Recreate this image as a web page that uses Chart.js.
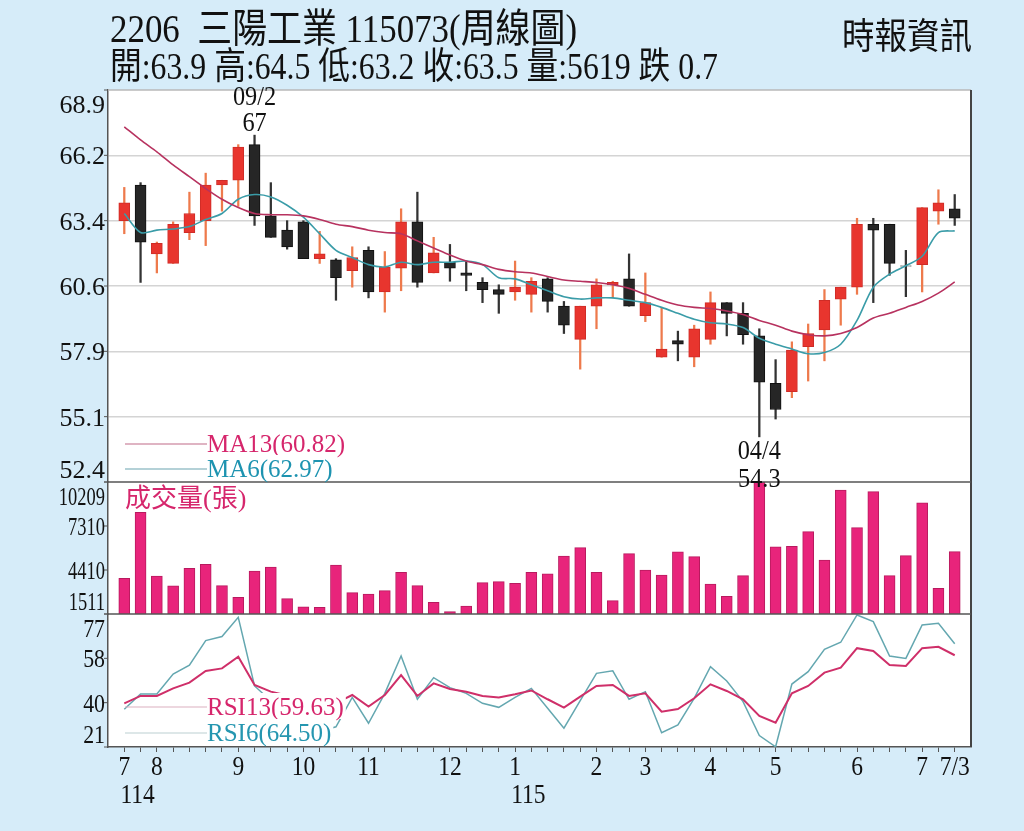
<!DOCTYPE html>
<html><head><meta charset="utf-8">
<script src="https://cdn.jsdelivr.net/npm/chart.js@4"></script>
<style>html,body{margin:0;padding:0;background:#d6ecf9;}canvas{display:block;}</style>
</head><body>
<canvas id="c" width="1024" height="831"></canvas>
<script>
// ---- data (weekly, 114/07 .. 115/07/03) ----
const opens  = [63.4,64.9,62.0,61.6,62.9,63.4,64.9,65.1,66.6,63.6,63.0,63.35,61.8,61.75,61.3,62.15,60.4,61.4,63.35,61.2,61.65,61.2,60.8,60.5,60.4,60.3,60.95,59.8,58.4,59.8,60.7,60.95,59.4,57.65,58.35,57.65,58.4,59.95,59.5,58.55,56.55,56.2,58.1,58.8,60.1,60.6,63.25,63.25,61.5,61.55,63.8,63.9];
const highs  = [64.8,65.0,62.5,63.35,64.6,65.4,65.1,66.6,67.0,65.0,63.4,63.4,62.95,61.8,62.3,62.3,62.1,63.9,64.6,62.7,62.4,61.7,61.0,60.7,61.7,61.0,61.0,60.0,59.8,60.95,60.85,62.0,61.2,59.75,58.75,59.0,60.4,59.95,59.95,58.85,57.55,58.3,59.05,60.5,60.6,63.5,63.5,63.25,62.15,63.95,64.7,64.5];
const lows   = [62.85,60.8,61.2,61.6,62.6,62.35,63.8,64.0,63.2,62.7,62.2,61.8,61.6,60.05,60.6,60.15,59.55,60.45,60.6,61.2,60.85,60.45,59.95,59.5,60.05,59.55,59.55,58.65,57.15,58.85,60.15,59.8,59.15,57.65,57.5,57.25,58.2,58.55,58.2,54.3,55.05,55.95,56.65,57.5,59.0,60.3,59.95,61.1,60.2,60.4,63.25,63.2];
const closes = [64.15,62.5,62.45,63.25,63.7,64.9,65.1,66.5,63.6,62.7,62.3,61.8,62.0,61.0,61.85,60.4,61.45,63.35,60.8,62.05,61.4,61.1,60.5,60.3,60.6,60.85,60.0,59.0,59.8,60.7,60.8,59.8,59.95,58.0,58.2,58.85,59.95,59.5,58.6,56.6,55.45,57.95,58.65,60.05,60.6,63.25,63.0,61.6,61.48,63.95,64.15,63.5];
const ma13   = [67.35,66.8,66.3,65.75,65.25,64.75,64.3,63.95,63.7,63.65,63.65,63.6,63.45,63.25,63.15,63.0,62.9,62.85,62.55,62.25,61.95,61.7,61.55,61.35,61.25,61.2,61.05,60.9,60.85,60.8,60.7,60.55,60.3,60.05,59.85,59.75,59.7,59.6,59.45,59.2,59.0,58.75,58.6,58.55,58.65,58.9,59.3,59.5,59.75,60.0,60.35,60.82];
const ma6    = [63.7,62.9,63.0,63.05,63.15,63.45,63.7,64.3,64.5,64.4,64.05,63.55,62.85,62.15,61.85,61.55,61.45,61.65,61.55,61.65,61.65,61.7,61.55,61.0,60.95,60.7,60.45,60.2,60.1,60.15,60.15,60.05,59.95,59.75,59.5,59.25,59.1,59.05,58.9,58.45,58.2,58.0,57.8,57.85,58.2,59.2,60.6,61.15,61.5,61.9,62.9,62.97];
const volumes= [3860,8210,4010,3360,4520,4780,3380,2610,4340,4610,2520,1990,1950,4740,2920,2830,3050,4260,3380,2280,1670,2040,3580,3640,3530,4260,4150,5330,5880,4260,2390,5490,4410,4080,5600,5290,3490,2680,4040,10209,5930,5970,6940,5070,9680,7200,9570,4040,5360,8830,3200,5619];
const rsi13  = [39.4,42.5,42.5,45.7,48.1,53.0,54.1,59.0,47.1,44.3,42.7,41.0,40.0,39.5,42.9,38.0,42.9,51.3,42.5,47.8,45.4,44.3,42.5,41.8,43.2,44.8,41.1,37.6,42.2,46.7,47.1,42.5,43.6,35.9,37.0,41.5,47.4,44.6,41.1,34.1,31.2,43.6,46.7,52.3,54.4,62.6,61.4,55.5,55.1,62.6,63.2,59.63];
const rsi6   = [36.9,43.3,43.3,51.7,55.5,65.8,67.5,75.6,46.7,40.5,34.0,30.0,27.5,29.5,41.9,31.0,43.6,59.3,41.1,50.2,46.0,43.6,39.4,37.7,41.9,45.7,37.3,28.9,40.5,52.0,53.1,41.1,44.3,27.0,30.3,41.5,54.8,48.8,40.1,25.8,21.1,47.5,52.7,62.1,65.1,76.6,73.8,59.3,58.3,72.4,73.1,64.50];

// ---- tick labels ----
const monthTickIdx    = [0,2,7,11,15,20,24,29,32,36,40,45,49,51];
const monthTickLabels = ['7','8','9','10','11','12','1','2','3','4','5','6','7','7/3'];
const yearTickIdx     = [0,24];
const yearTickLabels  = ['114','115'];
const priceTickValues = [68.9,66.15,63.4,60.65,57.9,55.15,52.4];
const priceTickLabels = ['68.9','66.2','63.4','60.6','57.9','55.1','52.4'];
const volTickValues   = [10209,7310,4410,1511];
const volTickLabels   = ['10209','7310','4410','1511'];
const rsiTickValues   = [77,58.33,39.67,21];
const rsiTickLabels   = ['77','58','40','21'];
const hiDateLabel = '09/2';
const loDateLabel = '04/4';

const titleLine1 = '2206  三陽工業 115073(周線圖)';
const titleLine2 = '開:63.9 高:64.5 低:63.2 收:63.5 量:5619 跌 0.7';
const sourceText = '時報資訊';
const volTitle = '成交量(張)';

// ---- derived ----
const weekIdx = opens.map((_, i) => i);
const isUp = opens.map((o, i) => closes[i] >= o);
const pts = arr => arr.map((v, i) => ({x: i, y: v}));

const SERIF = '"Liberation Serif","Noto Sans CJK TC",serif';

function hline(ctx, x1, y1, x2, y2, color, w) {
  ctx.save(); ctx.strokeStyle = color; ctx.lineWidth = w;
  ctx.beginPath(); ctx.moveTo(x1, y1); ctx.lineTo(x2, y2); ctx.stroke(); ctx.restore();
}
function txt(ctx, s, x, y, font, color, align, sx, maxW) {
  ctx.save(); ctx.font = font; ctx.fillStyle = color; ctx.textAlign = align || 'left';
  ctx.textBaseline = 'alphabetic';
  ctx.translate(x, y); ctx.scale(sx || 1, 1);
  if (maxW) ctx.fillText(s, 0, 0, maxW); else ctx.fillText(s, 0, 0);
  ctx.restore();
}

const deco = {
  id: 'deco',
  beforeDraw(chart) {
    const {ctx, chartArea: a} = chart;
    ctx.save(); ctx.fillStyle = '#ffffff';
    ctx.fillRect(a.left, a.top, a.right - a.left, a.bottom - a.top); ctx.restore();
  },
  afterDraw(chart) {
    const ctx = chart.ctx, a = chart.chartArea, sc = chart.scales;
    const X = sc.x, P = sc.yP, V = sc.yV, R = sc.yR;
    // borders
    hline(ctx, a.left, a.top, a.right, a.top, '#b8b8b8', 1.5);
    hline(ctx, a.right, a.top, a.right, a.bottom, '#444', 2);
    hline(ctx, a.left, P.bottom, a.right, P.bottom, '#555', 1.5);
    hline(ctx, a.left, V.bottom, a.right, V.bottom, '#555', 1.5);

    // legends with white boxes
    const legend = (label, baseY, lineColor, textColor) => {
      ctx.save(); ctx.font = '25px ' + SERIF;
      const w = ctx.measureText(label).width; ctx.restore();
      const tx = a.left + 99;
      ctx.save(); ctx.fillStyle = '#fff';
      ctx.fillRect(tx, baseY - 22, w + 2, 26); ctx.restore();
      hline(ctx, a.left + 17, baseY - 8, tx, baseY - 8, lineColor, 1.2);
      txt(ctx, label, tx, baseY, '25px ' + SERIF, textColor, 'left');
    };
    legend('MA13(' + ma13[ma13.length - 1].toFixed(2) + ')', P.bottom - 30, '#c06a88', '#d6266c');
    legend('MA6(' + ma6[ma6.length - 1].toFixed(2) + ')', P.bottom - 5, '#6aa3b0', '#1d93b0');
    legend('RSI13(' + rsi13[rsi13.length - 1].toFixed(2) + ')', R.bottom - 32, '#dcb0c0', '#d6266c');
    legend('RSI6(' + rsi6[rsi6.length - 1].toFixed(2) + ')', R.bottom - 6, '#bccfd2', '#2596b0');

    // volume title
    txt(ctx, volTitle, a.left + 17, V.top + 25, '26px ' + SERIF, '#d6266c', 'left');

    // high / low annotations
    let hi = 0, lo = 0;
    highs.forEach((v, i) => { if (v > highs[hi]) hi = i; });
    lows.forEach((v, i) => { if (v < lows[lo]) lo = i; });
    const hx = X.getPixelForValue(hi), hy = P.getPixelForValue(highs[hi]);
    txt(ctx, hiDateLabel, hx, hy - 30, '27px ' + SERIF, '#111', 'center', 0.9);
    txt(ctx, String(highs[hi]), hx, hy - 4, '27px ' + SERIF, '#111', 'center', 0.9);
    const lx = X.getPixelForValue(lo), ly = P.getPixelForValue(lows[lo]);
    txt(ctx, loDateLabel, lx, ly + 22, '27px ' + SERIF, '#111', 'center', 0.9);
    txt(ctx, String(lows[lo]), lx, ly + 50, '27px ' + SERIF, '#111', 'center', 0.9);

    // y labels
    const ylabels = (scale, vals, labs, sx) => {
      vals.forEach((v, i) => {
        const p = scale.getPixelForValue(v);
        hline(ctx, a.left - 4, p, a.left, p, '#555', 1);
        const c = Math.min(Math.max(p, scale.top + 14), scale.bottom - 13);
        txt(ctx, labs[i], a.left - 3, c + 9, '26px ' + SERIF, '#111', 'right', sx);
      });
    };
    ylabels(P, priceTickValues, priceTickLabels, 1);
    ylabels(V, volTickValues, volTickLabels, 0.71);
    ylabels(R, rsiTickValues, rsiTickLabels, 0.84);

    // x labels
    ctx.save(); ctx.font = '27px ' + SERIF;
    monthTickIdx.forEach((idx, i) => {
      const px = X.getPixelForValue(idx);
      txt(ctx, monthTickLabels[i], px, a.bottom + 28, '27px ' + SERIF, '#111', 'center', 0.87);
    });
    yearTickIdx.forEach((idx, i) => {
      const px = X.getPixelForValue(idx);
      const mi = monthTickIdx.indexOf(idx);
      const w = ctx.measureText(monthTickLabels[mi]).width * 0.87;
      txt(ctx, yearTickLabels[i], px - w / 2 + 2, a.bottom + 56, '27px ' + SERIF, '#111', 'left', 0.87);
    });
    ctx.restore();

    // titles
    txt(ctx, titleLine1, a.left + 2, 42, '40px ' + SERIF, '#111', 'left', 1, 467);
    txt(ctx, titleLine2, a.left + 2, 79, '37px ' + SERIF, '#111', 'left', 1, 608);
    txt(ctx, sourceText, a.right + 1, 49, '36px "Noto Sans CJK TC",sans-serif', '#111', 'right', 1, 130);
  }
};

new Chart(document.getElementById('c'), {
  type: 'bar',
  data: {
    datasets: [
      {type: 'line', label: 'MA13', data: pts(ma13), yAxisID: 'yP', borderColor: '#b7325f', borderWidth: 1.6, pointRadius: 0, tension: 0.3, order: 0},
      {type: 'line', label: 'MA6', data: pts(ma6), yAxisID: 'yP', borderColor: '#3a9ca8', borderWidth: 1.6, pointRadius: 0, tension: 0.3, order: 0},
      {label: 'body', data: opens.map((o, i) => ({x: i, y: [o, closes[i]]})), yAxisID: 'yP',
        backgroundColor: isUp.map(u => u ? '#e8352e' : '#262626'),
        borderColor: isUp.map(u => u ? '#cf2c27' : '#111111'),
        borderWidth: 1, borderSkipped: false, barThickness: 11, grouped: false, order: 1},
      {label: 'wick', data: lows.map((l, i) => ({x: i, y: [l, highs[i]]})), yAxisID: 'yP',
        backgroundColor: isUp.map(u => u ? '#ee7a4c' : '#333333'),
        borderWidth: 0, barThickness: 1.6, grouped: false, order: 2},
      {label: 'vol', data: pts(volumes), yAxisID: 'yV', backgroundColor: '#e8247b', borderColor: '#b81a5e',
        borderWidth: 1, borderSkipped: 'bottom', barThickness: 11, grouped: false, order: 3},
      {type: 'line', label: 'RSI13', data: pts(rsi13), yAxisID: 'yR', borderColor: '#cf2f69', borderWidth: 2, pointRadius: 0, tension: 0, order: 0},
      {type: 'line', label: 'RSI6', data: pts(rsi6), yAxisID: 'yR', borderColor: '#64a7b0', borderWidth: 1.5, pointRadius: 0, tension: 0, order: 0}
    ]
  },
  options: {
    responsive: false, animation: false, devicePixelRatio: 1,
    layout: {padding: {left: 108, right: 53, top: 90, bottom: 79}},
    plugins: {legend: {display: false}, tooltip: {enabled: false}},
    scales: {
      x: {type: 'linear', min: -1, max: 52, offset: false,
        ticks: {display: false},
        afterBuildTicks: s => { s.ticks = weekIdx.map(v => ({value: v})); },
        grid: {display: true, drawOnChartArea: false, drawTicks: true, tickLength: 5, color: '#555', offset: false},
        border: {display: true, color: '#555', width: 1.5}},
      yP: {type: 'linear', position: 'left', stack: 'k', stackWeight: 392, weight: 3, min: 52.4, max: 68.9,
        ticks: {display: false},
        afterBuildTicks: s => { s.ticks = priceTickValues.slice(1, -1).map(v => ({value: v})); },
        grid: {color: '#d4d4d4', lineWidth: 1.5, drawTicks: false},
        border: {color: '#555', width: 1.5}},
      yV: {type: 'linear', position: 'left', stack: 'k', stackWeight: 132, weight: 2, min: 1511, max: 10209,
        ticks: {display: false}, grid: {display: false, drawTicks: false}, border: {color: '#555', width: 1.5}},
      yR: {type: 'linear', position: 'left', stack: 'k', stackWeight: 133, weight: 1, min: 21, max: 77,
        ticks: {display: false}, grid: {display: false, drawTicks: false}, border: {color: '#555', width: 1.5}}
    }
  },
  plugins: [deco]
});
</script>
</body></html>
